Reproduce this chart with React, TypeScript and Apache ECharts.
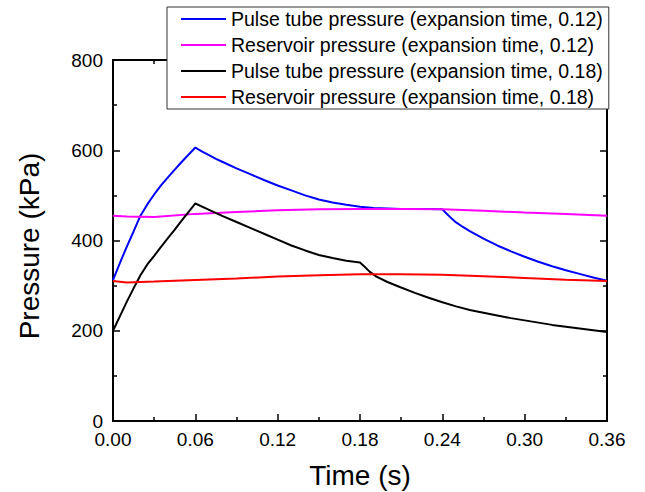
import React, { useEffect, useRef } from "react";
import * as echarts from "echarts";

const FONT = "'Liberation Sans', Arial, sans-serif";

const xTicks = [0, 0.06, 0.12, 0.18, 0.24, 0.3, 0.36];
const yTicks = [0, 200, 400, 600, 800];

const seriesNames = [
  "Pulse tube pressure (expansion time, 0.12)",
  "Reservoir pressure (expansion time, 0.12)",
  "Pulse tube pressure (expansion time, 0.18)",
  "Reservoir pressure (expansion time, 0.18)",
];
const seriesColors = ["#0000ff", "#ff00ff", "#000000", "#ff0000"];

// Pulse tube pressure, expansion time 0.12
const pt12Time = [
  0, 0.005, 0.01, 0.015, 0.02, 0.025, 0.03, 0.035, 0.04, 0.045, 0.05, 0.055, 0.06,
  0.065, 0.07, 0.075, 0.08, 0.09, 0.1, 0.11, 0.12, 0.13, 0.14, 0.15, 0.16, 0.17, 0.18,
  0.19, 0.2, 0.21, 0.22, 0.23, 0.24, 0.243, 0.247, 0.25, 0.255, 0.26, 0.27, 0.28, 0.29,
  0.3, 0.31, 0.32, 0.33, 0.34, 0.35, 0.36,
];
const pt12Value = [
  312, 350, 386, 420, 455, 480, 502, 522, 540, 557, 574, 590, 606,
  597, 589, 581, 574, 560, 547, 534, 522, 511, 500, 491, 484, 479, 475,
  472, 471, 470, 470, 470, 469, 460, 448, 440, 430, 421, 404, 389, 376,
  364, 353, 343, 334, 326, 318, 311,
];

// Reservoir pressure, expansion time 0.12
const rv12Time = [0, 0.01, 0.03, 0.06, 0.09, 0.12, 0.15, 0.18, 0.21, 0.24, 0.27, 0.3, 0.33, 0.36];
const rv12Value = [455, 453, 452, 459, 463, 467, 469, 470, 470, 469, 466, 462, 459, 455];

// Pulse tube pressure, expansion time 0.18
const pt18Time = [
  0, 0.005, 0.01, 0.015, 0.02, 0.025, 0.03, 0.035, 0.04, 0.045, 0.05, 0.055, 0.06,
  0.07, 0.08, 0.09, 0.1, 0.11, 0.12, 0.13, 0.14, 0.15, 0.16, 0.17, 0.18, 0.183, 0.187,
  0.192, 0.2, 0.209, 0.22, 0.23, 0.24, 0.25, 0.26, 0.27, 0.28, 0.29, 0.3, 0.31, 0.32,
  0.33, 0.34, 0.35, 0.36,
];
const pt18Value = [
  200, 232, 264, 294, 323, 347, 366, 386, 405, 424, 444, 463, 482,
  468, 454, 441, 428, 415, 402, 389, 378, 368, 361, 355, 351, 343, 331,
  320, 308, 297, 284, 273, 263, 254, 246, 240, 234, 228, 223, 218, 213,
  209, 205, 201, 197,
];

// Reservoir pressure, expansion time 0.18
const rv18Time = [0, 0.01, 0.03, 0.06, 0.09, 0.12, 0.15, 0.18, 0.21, 0.24, 0.27, 0.3, 0.33, 0.36];
const rv18Value = [310, 307, 309, 312.5, 316, 320, 323, 325, 325, 324, 321, 317, 313, 310];

const pair = (t: number[], v: number[]) => t.map((x, i) => [x, v[i]]);

export default function App() {
  const ref = useRef<HTMLDivElement>(null);

  useEffect(() => {
    if (!ref.current) return;
    const chart = echarts.init(ref.current, null, { renderer: "svg" });

    const dataSets = [
      pair(pt12Time, pt12Value),
      pair(rv12Time, rv12Value),
      pair(pt18Time, pt18Value),
      pair(rv18Time, rv18Value),
    ];

    const axisLine = { show: true, onZero: false, lineStyle: { color: "#000", width: 2 } };
    const tick = { show: true, inside: true, length: 7, lineStyle: { color: "#000", width: 1.5 } };
    const minorTick = { show: true, splitNumber: 2, length: 4, lineStyle: { color: "#000", width: 1.5 } };

    chart.setOption({
      animation: false,
      backgroundColor: "#fff",
      grid: { left: 113, right: 38, top: 60, bottom: 71 },
      legend: {
        orient: "vertical",
        left: 167,
        top: 7,
        padding: [2, 6, 2, 14],
        icon: "rect",
        itemWidth: 45,
        itemHeight: 2,
        itemGap: 6,
        backgroundColor: "#fff",
        borderColor: "#333",
        borderWidth: 1,
        borderRadius: 0,
        textStyle: { fontSize: 19.5, lineHeight: 20, color: "#000", fontFamily: FONT },
        data: seriesNames,
      },
      xAxis: [
        {
          type: "value",
          min: xTicks[0],
          max: xTicks[xTicks.length - 1],
          interval: xTicks[1] - xTicks[0],
          axisLine,
          axisTick: tick,
          minorTick,
          splitLine: { show: false },
          axisLabel: {
            fontSize: 19,
            color: "#000",
            fontFamily: FONT,
            margin: 9,
            formatter: (v: number) => v.toFixed(2),
          },
        },
        {
          type: "value",
          position: "top",
          min: xTicks[0],
          max: xTicks[xTicks.length - 1],
          interval: xTicks[1] - xTicks[0],
          axisLine,
          axisTick: tick,
          minorTick,
          splitLine: { show: false },
          axisLabel: { show: false },
        },
      ],
      yAxis: [
        {
          type: "value",
          min: yTicks[0],
          max: yTicks[yTicks.length - 1],
          interval: yTicks[1] - yTicks[0],
          axisLine,
          axisTick: tick,
          minorTick,
          splitLine: { show: false },
          axisLabel: { fontSize: 19, color: "#000", fontFamily: FONT, margin: 10 },
        },
        {
          type: "value",
          position: "right",
          min: yTicks[0],
          max: yTicks[yTicks.length - 1],
          interval: yTicks[1] - yTicks[0],
          axisLine,
          axisTick: tick,
          minorTick,
          splitLine: { show: false },
          axisLabel: { show: false },
        },
      ],
      series: dataSets.map((d, i) => ({
        name: seriesNames[i],
        type: "line",
        xAxisIndex: 0,
        yAxisIndex: 0,
        data: d,
        symbol: "none",
        smooth: false,
        color: seriesColors[i],
        lineStyle: { color: seriesColors[i], width: 2 },
      })),
      graphic: [
        {
          type: "text",
          x: 360,
          y: 475,
          style: {
            text: "Time (s)",
            fontSize: 28,
            fontFamily: FONT,
            fill: "#000",
            align: "center",
            verticalAlign: "middle",
          },
        },
        {
          type: "text",
          x: 29,
          y: 246,
          rotation: Math.PI / 2,
          style: {
            text: "Pressure (kPa)",
            fontSize: 28,
            fontFamily: FONT,
            fill: "#000",
            align: "center",
            verticalAlign: "middle",
          },
        },
      ],
    });

    return () => chart.dispose();
  }, []);

  return (
    <div
      ref={ref}
      style={{ position: "fixed", left: 0, top: 0, width: 645, height: 492 }}
    />
  );
}
